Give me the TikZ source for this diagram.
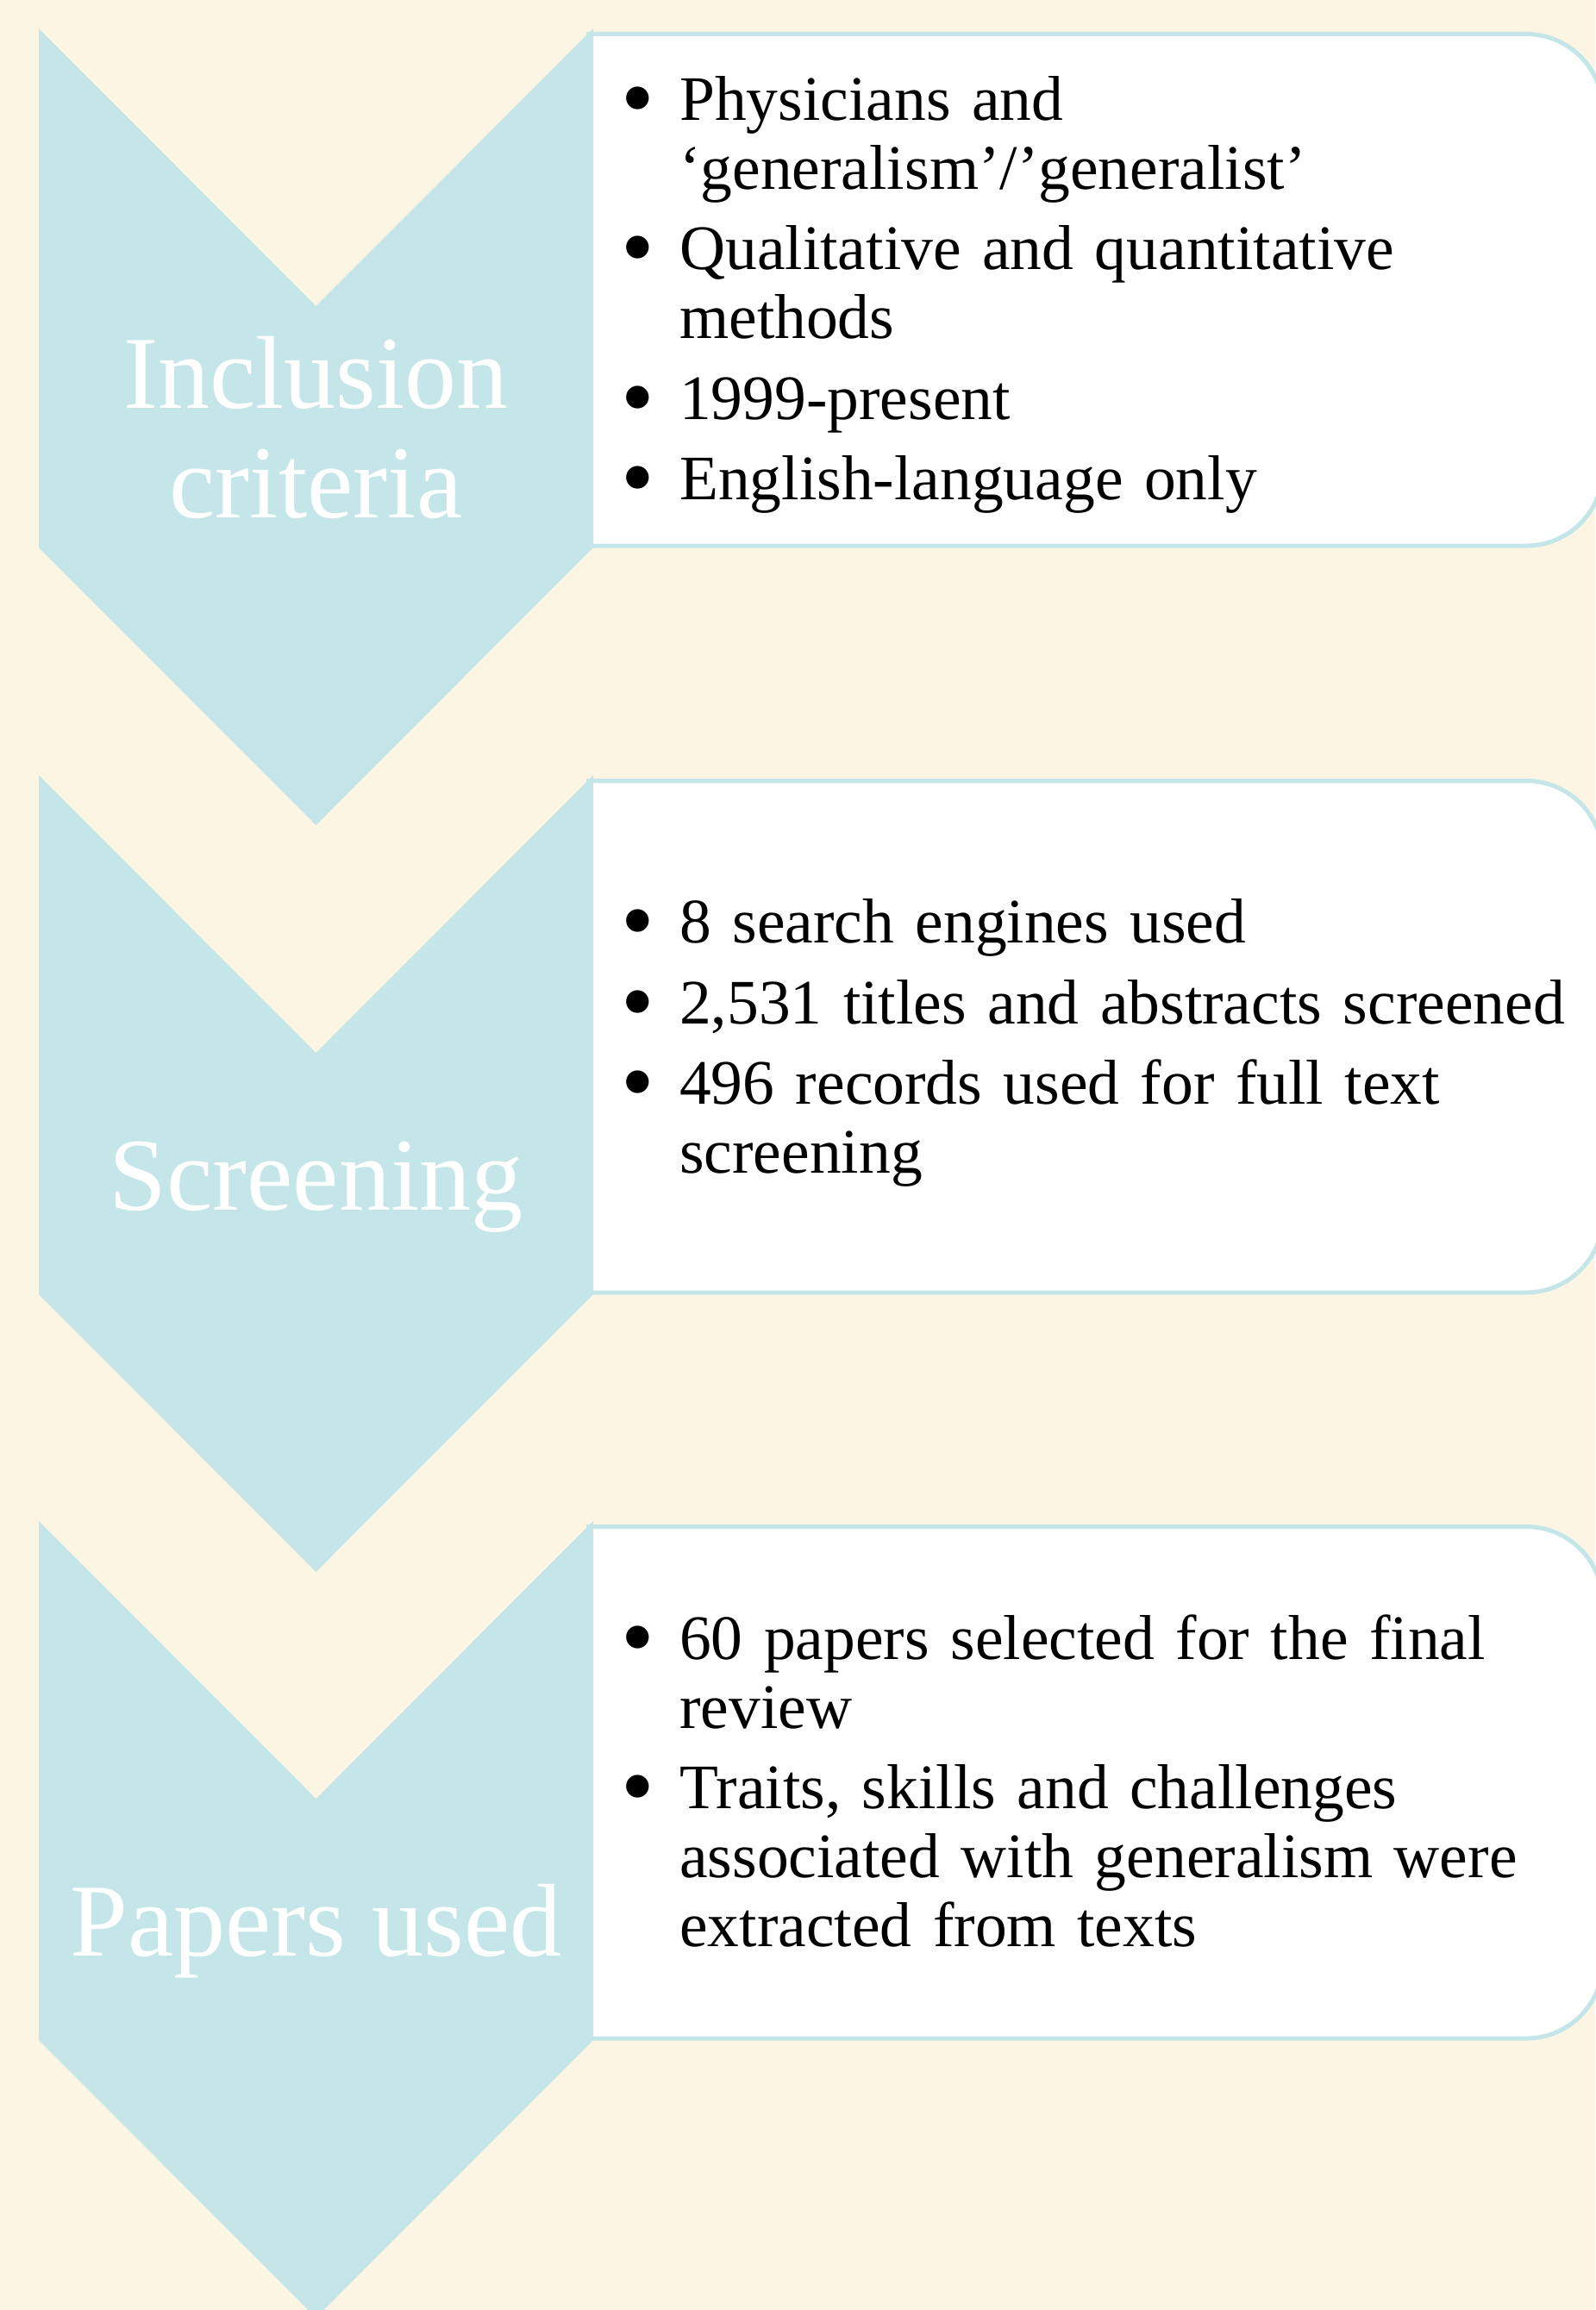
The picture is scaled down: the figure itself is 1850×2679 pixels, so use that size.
\documentclass[tikz,border=0pt]{standalone}
\usepackage{fontspec}
\setmainfont{Liberation Serif}
\usepackage{tikz}

\definecolor{cream}{RGB}{252,245,227}
\definecolor{chevblue}{RGB}{196,230,232}

% one bullet point, lines after the first hang under the text
\newcommand{\critem}[1]{\noindent\hangindent=62pt\hangafter=1%
    \makebox[62pt][l]{\hspace{-6pt}\raisebox{-0.15em}{\scalebox{1.5}{\textbullet}}}#1\par}

\begin{document}
\begin{tikzpicture}[
    x = 1pt, y = -1pt, % one unit per pixel, y runs down
    chevron/.style = {fill = chevblue},
    panel/.style = {draw = chevblue, fill = white, line width = 5pt},
    stage/.style = {text = white, align = center, inner sep = 0pt,
        font = \fontsize{120}{127}\selectfont},
    points/.style = {anchor = base west, text width = 1110pt, inner sep = 0pt,
        font = \fontsize{73.5}{80}\selectfont\raggedright\setlength{\parskip}{13.5pt}}
    ]

    \fill[cream] (0,0) rectangle (1850,2679);
    \useasboundingbox (0,0) rectangle (1850,2679);

    \foreach \t in {33, 899, 1764} {
        % white panel, rounded on the right
        \draw[panel] (680,\t+6.5) -- (1770,\t+6.5)
            arc[start angle = -90, end angle = 0, radius = 89] -- (1859,\t+511)
            arc[start angle = 0, end angle = 90, radius = 89] -- (680,\t+600);
        % chevron laid over the panel's left end
        \fill[chevron] (45,\t) -- (366.5,\t+322) -- (688,\t) -- (688,\t+602)
            -- (366.5,\t+924) -- (45,\t+602) -- cycle;
    }

    \node[stage] (incl) at (366.5,495.5) {Inclusion\\criteria};
    \node[stage, anchor = base] (scrn) at (366.5,1403) {Screening};
    \node[stage, anchor = base] (papr) at (366.5,2268) {Papers used};

    \node[points] (incl-pts) at (726,139) {%
        \critem{Physicians and\newline ‘generalism’/’generalist’}%
        \critem{Qualitative and quantitative\newline methods}%
        \critem{1999-present}%
        \critem{English-language only}};
    \node[points] (scrn-pts) at (726,1093.5) {%
        \critem{8 search engines used}%
        \critem{2,531 titles and abstracts screened}%
        \critem{496 records used for full text\newline screening}};
    \node[points] (papr-pts) at (726,1924) {%
        \critem{60 papers selected for the final\newline review}%
        \critem{Traits, skills and challenges\newline associated with generalism were\newline extracted from texts}};
\end{tikzpicture}
\end{document}
